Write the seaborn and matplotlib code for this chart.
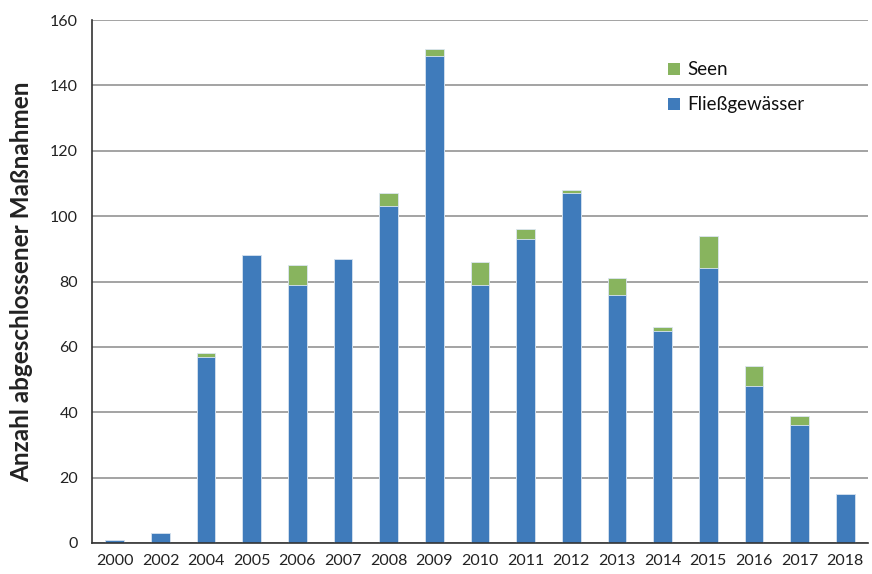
import matplotlib
matplotlib.use("Agg")
import matplotlib.pyplot as plt
from matplotlib.patches import Patch
import numpy as np
import pandas as pd
import seaborn as sns

years = ["2000", "2002", "2004", "2005", "2006", "2007", "2008", "2009", "2010",
         "2011", "2012", "2013", "2014", "2015", "2016", "2017", "2018"]
fliessgewaesser = [1, 3, 57, 88, 79, 87, 103, 149, 79, 93, 107, 76, 65, 84, 48, 36, 15]
seen = [0, 0, 1, 0, 6, 0, 4, 2, 7, 3, 1, 5, 1, 10, 6, 3, 0]
y_ticks = [0, 20, 40, 60, 80, 100, 120, 140, 160]

blue = "#3f7bbb"
green = "#88b45e"

df = pd.DataFrame({"Jahr": years, "Fließgewässer": fliessgewaesser, "Seen": seen})
df["Gesamt"] = df["Fließgewässer"] + df["Seen"]

sns.set_theme(style="white")
plt.rcParams["font.family"] = ["Lato", "DejaVu Sans"]

fig = plt.figure(figsize=(8.72, 5.74), dpi=100)
ax = fig.add_axes([92 / 872, 31 / 574, 776 / 872, 523 / 574])

# Stacked bars: total height in green, river part drawn over it in blue
sns.barplot(data=df, x="Jahr", y="Gesamt", color=green, width=0.41, saturation=1,
            edgecolor="#dbe6f2", linewidth=0.6, ax=ax)
sns.barplot(data=df, x="Jahr", y="Fließgewässer", color=blue, width=0.41, saturation=1,
            edgecolor="#dbe6f2", linewidth=0.6, ax=ax)

ax.set_ylim(0, 160)
ax.set_xlim(-0.5, len(years) - 0.5)
ax.set_yticks(y_ticks)
ax.set_yticklabels([str(t) for t in y_ticks], fontsize=11.5, color="#222222")
ax.yaxis.grid(True, color="#8a8a8a", linewidth=1.1)
ax.set_axisbelow(True)

# Category labels centred, tick marks on category boundaries
ax.set_xticks(range(len(years)))
ax.set_xticklabels(years, fontsize=11.5, color="#222222")
ax.tick_params(axis="x", which="major", length=0, pad=8)
ax.set_xticks(np.arange(-0.5, len(years), 1.0), minor=True)
ax.tick_params(axis="x", which="minor", length=6, width=1.2, color="#333333", direction="out")
ax.tick_params(axis="y", which="major", length=6, width=1.2, color="#333333", direction="out", pad=4)

for side in ["top", "right"]:
    ax.spines[side].set_visible(False)
for side in ["left", "bottom"]:
    ax.spines[side].set_color("#333333")
    ax.spines[side].set_linewidth(1.2)

ax.set_xlabel("")
ax.set_ylabel("Anzahl abgeschlossener Maßnahmen", fontsize=17.5, fontweight="bold",
              color="#222222", labelpad=12)

handles = [Patch(facecolor=green, edgecolor="none", label="Seen"),
           Patch(facecolor=blue, edgecolor="none", label="Fließgewässer")]
ax.legend(handles=handles, loc="upper left", bbox_to_anchor=(0.733, 0.935), frameon=False,
          fontsize=13.5, handlelength=0.6, handleheight=0.6, handletextpad=0.4,
          labelspacing=0.95, borderaxespad=0, labelcolor="#111111")

fig.savefig("out.png", dpi=100)
